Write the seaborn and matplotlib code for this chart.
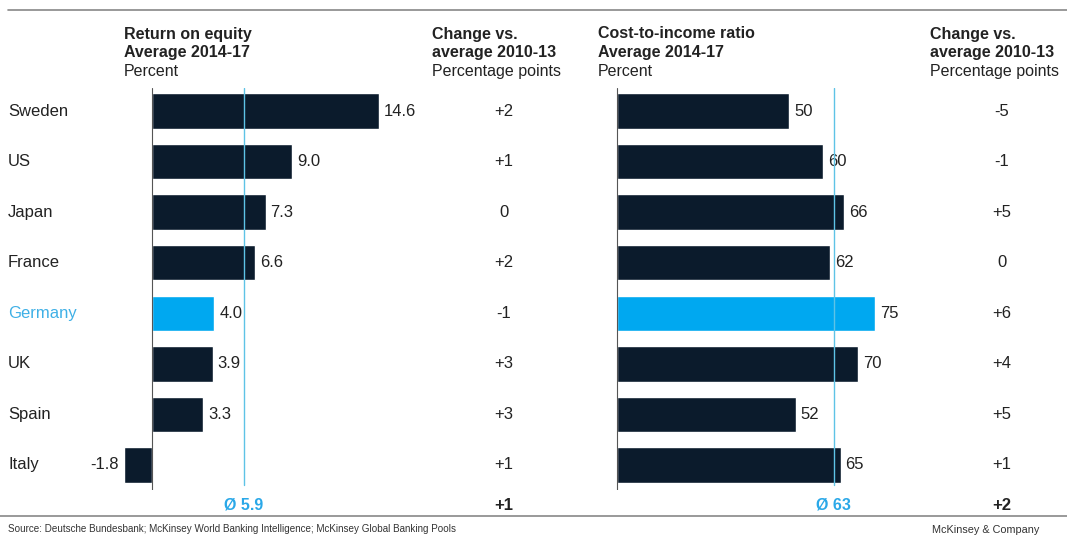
import matplotlib
matplotlib.use("Agg")
import matplotlib.pyplot as plt
from matplotlib import font_manager
import seaborn as sns
import pandas as pd

countries = ["Sweden", "US", "Japan", "France", "Germany", "UK", "Spain", "Italy"]
roe = [14.6, 9.0, 7.3, 6.6, 4.0, 3.9, 3.3, -1.8]
roe_change = ["+2", "+1", "0", "+2", "-1", "+3", "+3", "+1"]
cir = [50, 60, 66, 62, 75, 70, 52, 65]
cir_change = ["-5", "-1", "+5", "0", "+6", "+4", "+5", "+1"]
roe_avg = 5.9
cir_avg = 63
roe_change_total = "+1"
cir_change_total = "+2"
highlight = "Germany"

sns.set_theme(style="white")
names = {f.name for f in font_manager.fontManager.ttflist}
fam = next((n for n in ["Liberation Sans", "Arimo", "Roboto"] if n in names), "DejaVu Sans")
plt.rcParams["font.family"] = [fam, "DejaVu Sans"]

NAVY = "#0b1b2c"
CYAN = "#00a8f0"
AVG = "#5ec3e6"
LABEL_CYAN = "#3fb0e6"
TXT = "#222222"
FS = 12
HFS = 11.5

W, H = 1067, 536
fig = plt.figure(figsize=(W / 100, H / 100), dpi=100)

def fpos(x0, x1, ytop, ybot):
    return [x0 / W, 1 - ybot / H, (x1 - x0) / W, (ybot - ytop) / H]

df = pd.DataFrame({"country": countries, "roe": roe, "cir": cir})
palette = {c: (CYAN if c == highlight else NAVY) for c in countries}

ytop, ybot = 88, 490
row0, step = 111, 50.57
ylim = (7 + (ybot - (row0 + 7 * step)) / step, -(row0 - ytop) / step)

panels = [
    dict(col="roe", x0=0, x1=600, zero=152, scale=15.55, avg=roe_avg, avgtxt=f"Ø {roe_avg}",
         change=roe_change, total=roe_change_total, chx=504, fmt="{:.1f}",
         head_x=124, head=["Return on equity", "Average 2014-17", "Percent"],
         chhead_x=432),
    dict(col="cir", x0=580, x1=1067, zero=617, scale=3.44, avg=cir_avg, avgtxt=f"Ø {cir_avg}",
         change=cir_change, total=cir_change_total, chx=1002, fmt="{:.0f}",
         head_x=598, head=["Cost-to-income ratio", "Average 2014-17", "Percent"],
         chhead_x=930),
]

for p in panels:
    ax = fig.add_axes(fpos(p["x0"], p["x1"], ytop, ybot))
    sns.barplot(data=df, x=p["col"], y="country", hue="country", palette=palette,
                order=countries, width=0.7, ax=ax, legend=False, saturation=1)
    ax.set_xlim((p["x0"] - p["zero"]) / p["scale"], (p["x1"] - p["zero"]) / p["scale"])
    ax.set_ylim(*ylim)
    ax.axis("off")
    ax.axvline(0, color="#555555", lw=0.8, zorder=5)
    ax.axvline(p["avg"], ymin=0.012, color=AVG, lw=1.0, zorder=6)
    vals = df[p["col"]].tolist()
    for i, v in enumerate(vals):
        off = 5 / p["scale"]
        if v >= 0:
            ax.text(v + off, i, p["fmt"].format(v), ha="left", va="center", fontsize=FS, color=TXT)
        else:
            ax.text(v - off, i, p["fmt"].format(v), ha="right", va="center", fontsize=FS, color=TXT)
    for i, c in enumerate(p["change"]):
        fig.text(p["chx"] / W, 1 - (row0 + i * step) / H, c, ha="center", va="center",
                 fontsize=FS, color=TXT)
    fig.text(p["chx"] / W, 1 - 505 / H, p["total"], ha="center", va="center",
             fontsize=FS, color=TXT, fontweight="bold")
    avg_px = p["zero"] + p["avg"] * p["scale"]
    fig.text(avg_px / W, 1 - 505 / H, p["avgtxt"], ha="center", va="center",
             fontsize=11.5, color="#2aa8e8", fontweight="bold")
    for j, (t, w) in enumerate(zip(p["head"], ["bold", "bold", "normal"])):
        fig.text(p["head_x"] / W, 1 - (34 + j * 19) / H, t, ha="left", va="center",
                 fontsize=HFS, color=TXT, fontweight=w)
    for j, (t, w) in enumerate(zip(["Change vs.", "average 2010-13", "Percentage points"],
                                   ["bold", "bold", "normal"])):
        fig.text(p["chhead_x"] / W, 1 - (34 + j * 19) / H, t, ha="left", va="center",
                 fontsize=HFS, color=TXT, fontweight=w)

for i, c in enumerate(countries):
    fig.text(8 / W, 1 - (row0 + i * step) / H, c, ha="left", va="center", fontsize=FS,
             color=(LABEL_CYAN if c == highlight else TXT))

fig.add_artist(plt.Line2D([8 / W, 1], [1 - 10 / H, 1 - 10 / H], color="#888888", lw=1.2))
fig.add_artist(plt.Line2D([0, 1], [1 - 516 / H, 1 - 516 / H], color="#888888", lw=1.2))

fig.text(8 / W, 1 - 529 / H,
         "Source: Deutsche Bundesbank; McKinsey World Banking Intelligence; McKinsey Global Banking Pools",
         ha="left", va="center", fontsize=7.1, color="#333333")
fig.text(932 / W, 1 - 530 / H, "McKinsey & Company", ha="left", va="center",
         fontsize=7.8, color="#333333")

fig.savefig("out.png", dpi=100)
